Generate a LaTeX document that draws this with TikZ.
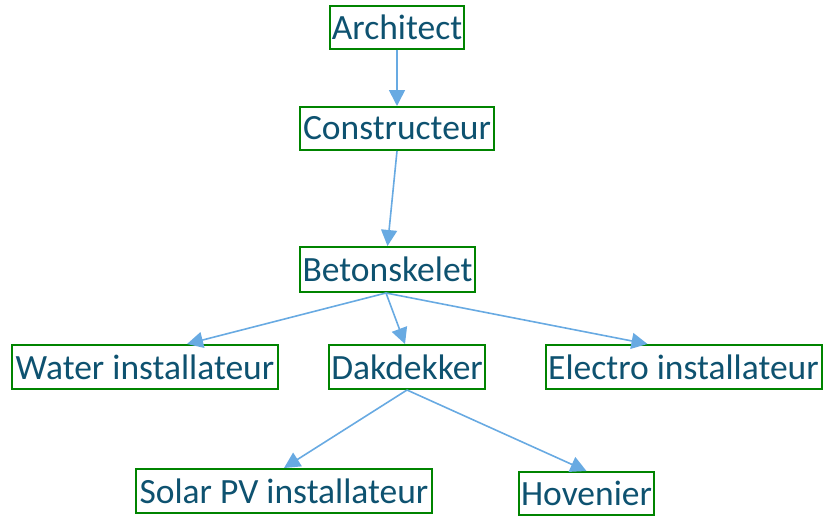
\documentclass[tikz,border=0pt]{standalone}
\usepackage{fontspec}
\setmainfont{Carlito}
\usetikzlibrary{arrows.meta}
\definecolor{txt}{RGB}{14,82,112}
\definecolor{boxgreen}{RGB}{0,132,0}
\definecolor{arr}{RGB}{104,170,226}
\tikzset{
  box/.style={draw=boxgreen, line width=2pt, fill=white, text=txt, inner sep=0pt,
    font=\fontsize{35.5}{41}\selectfont, minimum height=43pt, anchor=center},
  link/.style={draw=arr, line width=1.6pt, -{Triangle[length=16pt,width=16pt]}}
}
\begin{document}
\begin{tikzpicture}[x=1pt,y=-1pt]
\useasboundingbox (0,0) rectangle (823,517);
\node[box, minimum width=134pt] (arch) at (397,27) {Architect};
\node[box, minimum width=194pt] (cons) at (397,128.5) {Constructeur};
\node[box, minimum width=175pt, minimum height=45pt] (beton) at (387.5,269.5) {Betonskelet};
\node[box, minimum width=266pt, minimum height=44pt] (water) at (145,367) {Water installateur};
\node[box, minimum width=156pt, minimum height=44pt] (dak) at (407,367) {Dakdekker};
\node[box, minimum width=276pt, minimum height=44pt] (elec) at (683.5,367) {Electro installateur};
\node[box, minimum width=296pt, minimum height=44pt] (solar) at (284,491) {Solar PV installateur};
\node[box, minimum width=135pt, minimum height=43pt] (hov) at (586.5,493.5) {Hovenier};
\coordinate (wt) at ([xshift=42pt]water.north);
\coordinate (dt) at ([xshift=-2pt]dak.north);
\coordinate (et) at ([xshift=-36pt]elec.north);
\coordinate (bs) at ([xshift=-1.5pt]beton.south);
\draw[link] (arch.south) -- (cons.north);
\draw[link] (cons.south) -- (beton.north);
\draw[link] (bs) -- (wt);
\draw[link] (bs) -- (dt);
\draw[link] (bs) -- (et);
\draw[link] (dak.south) -- (solar.north);
\draw[link] (dak.south) -- (hov.north);
\end{tikzpicture}
\end{document}
